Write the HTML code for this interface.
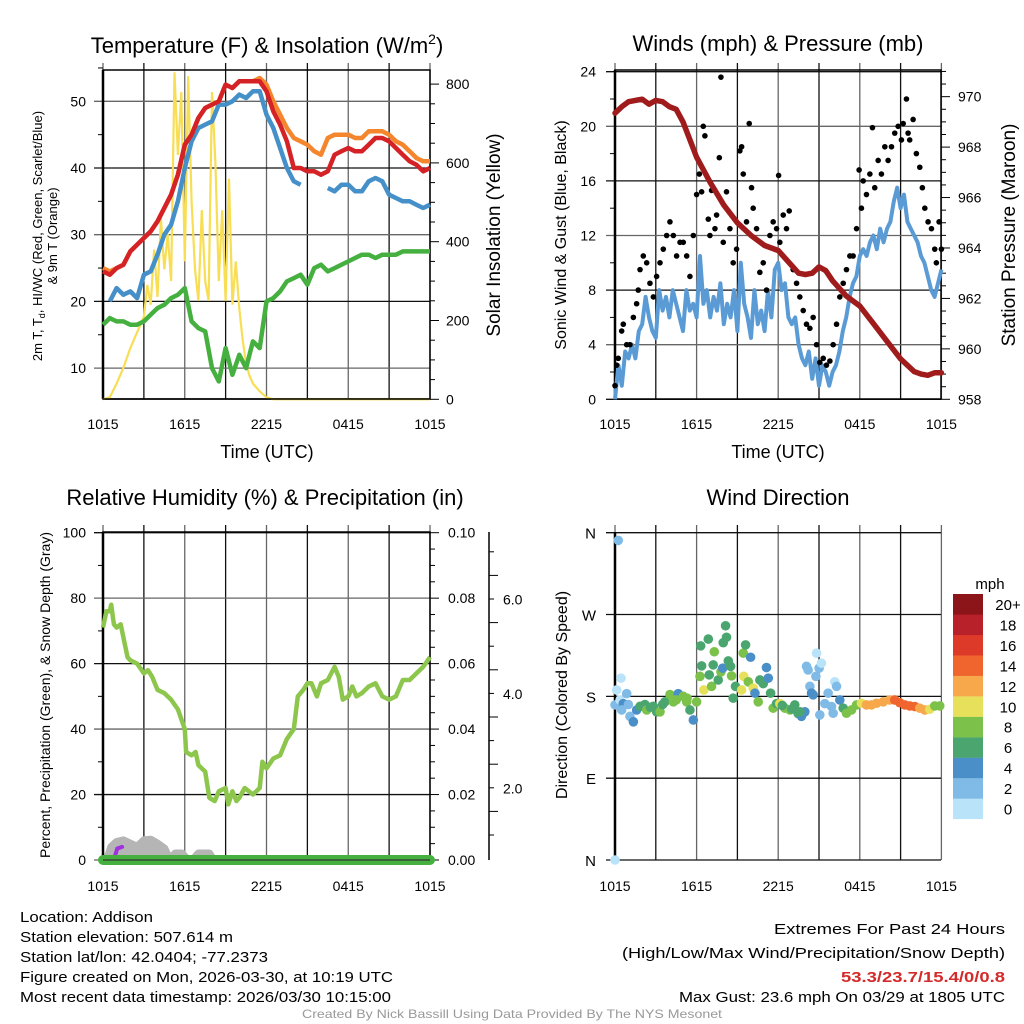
<!DOCTYPE html>
<html><head><meta charset="utf-8"><style>
html,body{margin:0;padding:0;background:#fff;}
svg{display:block;font-family:"Liberation Sans",Arial,sans-serif;}
</style></head><body>
<svg id="svg" width="1024" height="1024" viewBox="0 0 1024 1024" xmlns="http://www.w3.org/2000/svg">
<rect width="1024" height="1024" fill="#fff"/>
<g id="p1"></g>
<g id="p2"></g>
<g id="p3"></g>
<g id="p4"></g>
<!-- titles -->
<text x="267" y="53" font-size="22" text-anchor="middle">Temperature (F) &amp; Insolation (W/m<tspan font-size="14" dy="-9">2</tspan><tspan dy="9">)</tspan></text>
<text x="778" y="51" font-size="22" text-anchor="middle">Winds (mph) &amp; Pressure (mb)</text>
<text x="265" y="505" font-size="22" text-anchor="middle">Relative Humidity (%) &amp; Precipitation (in)</text>
<text x="778" y="505" font-size="22" text-anchor="middle">Wind Direction</text>
<text x="267" y="458" font-size="18" text-anchor="middle">Time (UTC)</text>
<text x="778" y="458" font-size="18" text-anchor="middle">Time (UTC)</text>
<text transform="translate(42,236) rotate(-90)" font-size="13" text-anchor="middle">2m T, T<tspan font-size="9" dy="3">d</tspan><tspan dy="-3">, HI/WC (Red, Green, Scarlet/Blue)</tspan></text>
<text transform="translate(57,236) rotate(-90)" font-size="13" text-anchor="middle">&amp; 9m T (Orange)</text>
<text transform="translate(500,235) rotate(-90)" font-size="19" text-anchor="middle">Solar Insolation (Yellow)</text>
<text transform="translate(566,235) rotate(-90)" font-size="16" text-anchor="middle">Sonic Wind &amp; Gust (Blue, Black)</text>
<text transform="translate(1015,235) rotate(-90)" font-size="19" text-anchor="middle">Station Pressure (Maroon)</text>
<text transform="translate(50,695) rotate(-90)" font-size="14" text-anchor="middle">Percent, Precipitation (Green), &amp; Snow Depth (Gray)</text>
<text transform="translate(567,695) rotate(-90)" font-size="16" text-anchor="middle">Direction (Colored By Speed)</text>
<!-- footer -->
<g font-size="15">
<text x="20" y="922" textLength="133" lengthAdjust="spacingAndGlyphs">Location: Addison</text>
<text x="20" y="942" textLength="213" lengthAdjust="spacingAndGlyphs">Station elevation: 507.614 m</text>
<text x="20" y="962" textLength="248" lengthAdjust="spacingAndGlyphs">Station lat/lon: 42.0404; -77.2373</text>
<text x="20" y="982" textLength="373" lengthAdjust="spacingAndGlyphs">Figure created on Mon, 2026-03-30, at 10:19 UTC</text>
<text x="20" y="1002" textLength="371" lengthAdjust="spacingAndGlyphs">Most recent data timestamp: 2026/03/30 10:15:00</text>
</g>
<g font-size="15">
<text x="774" y="934" textLength="231" lengthAdjust="spacingAndGlyphs">Extremes For Past 24 Hours</text>
<text x="622" y="958" textLength="383" lengthAdjust="spacingAndGlyphs">(High/Low/Max Wind/Precipitation/Snow Depth)</text>
<text x="841" y="982" textLength="164" lengthAdjust="spacingAndGlyphs" font-weight="bold" fill="#d42a2a">53.3/23.7/15.4/0/0.8</text>
<text x="679" y="1002" textLength="326" lengthAdjust="spacingAndGlyphs">Max Gust: 23.6 mph On 03/29 at 1805 UTC</text>
</g>
<text x="302" y="1018" font-size="12" fill="#999" textLength="420" lengthAdjust="spacingAndGlyphs">Created By Nick Bassill Using Data Provided By The NYS Mesonet</text>
</svg>
<script>
// ---------- DATA ----------
var xTickLabels = ["1015","1615","2215","0415","1015"];
// Panel 1
var tT = [0,0.5,1,1.5,2,2.5,3,3.5,4,4.5,5,5.5,6,6.5,7,7.5,8,8.5,9,9.5,10,10.5,11,11.5,12,12.5,13,13.5,14,14.5,15,15.5,16,16.5,17,17.5,18,18.5,19,19.5,20,20.5,21,21.5,22,22.5,23,23.5,24];
var tempRed = [24.5,24,25,25.5,27.5,28.5,29.5,30.5,32,34,36,39,43.5,45,47.5,49,49.5,50,52.5,52,53,53,53,53,51.5,48.5,46.5,44,40,40,39.5,39.5,39,39.5,42,42.5,43,42.5,42.5,43.5,44.5,44.5,44,43,42,41,40.5,39.5,40];
var temp9m = [25,24.5,25,25.5,27.5,28.5,29.5,30.5,32,34,36,39,43.5,45,47.5,49,49.5,50,52.5,52,53,53,53,53.5,52.5,50,48,46,44.5,44,43.5,42.5,42,44.5,45,45,45,44.5,44.5,45.5,45.5,45.5,45,44,43.5,42.5,41.5,41,41];
var windChill = [null,20,22,21,21.5,20.5,24,24.5,27,30,31.5,35,40,44,46,46.5,47,49.5,49.5,50,51,50.5,51.5,51.5,48,46,43,40,38,37.5,null,null,null,37,36.5,37.5,37.5,36.5,36.5,38,38.5,38,36,35.5,35,35,34.5,34,34.5];
var dewpoint = [16.5,17.5,17,17,16.5,16.5,17,18,19,19.5,20.5,21,22,17,16,15.5,10,8,13,9,12,10,14,13,20,20.5,21.5,23,23.5,24,22.5,25,25.5,24.5,25,25.5,26,26.5,27,27,26.5,27,27,27,27.5,27.5,27.5,27.5,27.5];
var solarT = [0,0.5,1,1.5,2,2.5,3,3.25,3.5,3.75,4,4.25,4.5,4.75,5,5.25,5.5,5.75,6,6.25,6.5,6.75,7,7.25,7.5,7.75,8,8.25,8.5,8.75,9,9.25,9.5,9.75,10,10.25,10.5,10.75,11,11.5,12,12.5,13,24];
var solarVals = [0,5,40,80,130,170,210,290,240,380,260,460,330,420,300,830,620,780,350,820,500,330,250,480,300,250,780,600,300,480,250,560,240,350,230,150,90,60,40,20,5,0,0,0];
// Panel 2
var pressT = [0,0.5,1,1.5,2,2.5,3,3.5,4,4.5,5,5.5,6,7,8,9,10,11,12,13,13.5,14,14.5,15,15.5,16,16.5,17,18,19,20,21,22,22.5,23,23.5,24];
var pressure = [969.35,969.6,969.8,969.85,969.9,969.7,969.85,969.8,969.6,969.5,969.0,968.3,967.6,966.6,965.7,965.0,964.5,964.1,963.9,963.3,963.0,962.95,963.0,963.25,963.1,962.7,962.4,962.1,961.7,961.0,960.3,959.6,959.1,959.0,958.95,959.05,959.05];
var windT = [0,0.25,0.5,0.75,1,1.25,1.5,1.75,2,2.25,2.5,2.75,3,3.25,3.5,3.75,4,4.25,4.5,4.75,5,5.25,5.5,5.75,6,6.25,6.5,6.75,7,7.25,7.5,7.75,8,8.25,8.5,8.75,9,9.25,9.5,9.75,10,10.25,10.5,10.75,11,11.25,11.5,11.75,12,12.25,12.5,12.75,13,13.25,13.5,13.75,14,14.25,14.5,14.75,15,15.25,15.5,15.75,16,16.25,16.5,16.75,17,17.25,17.5,17.75,18,18.25,18.5,18.75,19,19.25,19.5,19.75,20,20.25,20.5,20.75,21,21.25,21.5,21.75,22,22.25,22.5,22.75,23,23.25,23.5,23.75,24];
var windSpd = [0,2.5,1,3.5,3,4,3,5,5.5,7.5,6,5,4.5,8,6.5,7.5,6,8,7,6,5,8,6.5,7,6,10.5,7,8,6,7.5,6.5,8.5,5.5,7,6,8,5,10,7,6,4.5,8,5.5,6.5,5,8,6,9.5,10,8,8.5,6,5.5,6,4,3,2.5,3.5,1.5,3,1,2.5,2,1,2,2.5,3.5,5,6,7.5,8.5,9,10.5,11,10.5,11.5,12,11,12.5,11.5,12.5,13,14.5,15.5,14,15,13,12.5,12,11.5,10.5,10,9,8,7.5,8.5,9.5];
var gustT = [0,.12,.24,.49,.61,.86,1.1,1.35,1.59,1.71,1.84,2.08,2.33,2.57,2.82,3.06,3.31,3.55,3.8,4.04,4.29,4.53,4.78,5.02,5.27,5.51,5.76,6.0,6.2,6.37,6.49,6.61,6.86,6.98,7.1,7.35,7.47,7.67,7.79,7.96,8.2,8.45,8.69,8.94,9.18,9.31,9.43,9.67,9.87,10.04,10.16,10.41,10.65,10.9,11.14,11.39,11.63,11.88,12.03,12.12,12.37,12.61,12.81,13.1,13.35,13.59,13.84,14.08,14.33,14.57,14.82,15.06,15.31,15.55,15.8,16.04,16.29,16.53,16.78,17.02,17.27,17.51,17.76,17.95,18.12,18.25,18.49,18.74,18.93,19.1,19.35,19.59,19.84,20.08,20.33,20.57,20.82,21.06,21.19,21.43,21.55,21.67,21.92,22.16,22.41,22.6,22.78,23.02,23.27,23.51,23.63,23.83,24];
var gustSpd = [1,2.5,3,5,5.5,4,4,6,7,8,9.5,10.5,10,8.5,7.5,9,10,11,12,13,12,10.5,11.5,11.5,10.5,9,12,15,16.5,15.2,20,19.3,13.2,12,15.3,12.5,13.5,17.7,23.6,11.5,15.2,12.5,10,11,18.2,18.5,16.5,13,20.2,15.5,14,12.5,9.3,10,8,12,13,12.5,16.4,11.5,13.5,12.5,13.8,9.5,8.5,7.5,6.5,5.5,5.2,6,4,2.7,3,2.5,2.8,4,5.5,7.5,8.5,9.5,10.5,10.5,12.5,16.8,14,16,15,16.5,19.9,15.5,17.5,16.5,18.5,17.5,18.5,19.5,20,19,20.2,22,19.5,19,20.5,18,17,15.5,14,13,12.5,11,10,13,11];
// Panel 3
var rhT = [0,0.25,0.5,0.6,0.8,1,1.3,1.5,1.8,2,2.5,3,3.3,3.6,4,4.5,5,5.5,6,6.1,6.5,6.8,7,7.5,7.8,8.2,8.5,9,9.2,9.5,9.8,10,10.4,11,11.5,11.7,12,12.5,13,13.5,14,14.3,14.7,15,15.3,15.7,16,16.5,17,17.3,17.6,18,18.3,18.6,19,19.5,20,20.5,21,21.5,22,22.5,23,23.5,24];
var rh = [71,76,76,78,72,71,72,68,62,61,60,57,58,56,52,51,49,46,40,33,32,33,29,27,19,18,21,22,17,21,18,19,22,20,22,30,28,31,32,37,40,50,52,54,54,50,54,55,59,56,49,50,53,50,51,53,54,50,49,50,55,55,57,59,62];
var snowT = [0.3,0.6,1,1.5,2,2.5,3,3.5,4,4.5,4.9,5.3,5.8,6.2,6.6,7,7.4,7.8,8.1];
var snowV = [0,4,5.5,6,5,4,6,6.2,5,3.5,0,2,2,0,0,2,2,2,0];
var precipT = [0,24];
var precip = [0,0];
var rightPrecipTicks = [0,0.02,0.04,0.06,0.08,0.10];
var extraTicks = ["2.0","4.0","6.0"];
// Panel 4
var dirT = [0,0.24,0.44,0.12,0,0.37,0.61,0.86,0.98,0.49,1.1,1.35,1.59,1.84,2.2,2.33,2.82,3.06,3.31,3.67,4.04,4.29,4.65,5.02,5.27,5.51,5.76,6,6.25,6.3,6.37,6.53,6.86,6.93,7.1,7.22,7.3,7.59,7.79,7.92,7.96,8.13,8.2,8.33,8.5,8.57,8.69,8.86,9.31,9.43,9.6,9.47,9.8,9.97,10.16,10.29,10.53,10.65,10.9,11.14,11.27,11.44,11.63,11.88,12.12,12.49,12.86,13.22,13.47,13.71,13.96,14.08,14.2,14.33,14.45,14.57,14.77,14.82,15.01,15.18,15.06,15.43,15.67,15.92,16.16,16.29,16.04,16.53,16.78,17.02,17.39,17.76,18.12,18.49,18.86,19.23,19.72,20.2,20.57,20.94,21.31,21.67,22.04,22.41,22.78,23.14,23.51,23.88,2.6,3.5,4.5,5.3,12.3,13,13.6];
var dirDeg = [0,351.5,200,187,170.6,176,172,183,171,165,158,152,165,169,171,165,169,163,163,174,182,174,183,180,174,165,154,174,202,235.5,213.5,187,243,203.6,191,214.6,229,198,207,211,239,257.6,245,219,213,202.5,178,191,187,227.5,236.6,202,196,223,189,183.5,174,198,194,211.7,200,183.5,167,172,172,167,165,170.6,161,158,163,213,209,191,183.5,181.7,202,227.5,211,216.5,159.6,172,183.5,168.8,196,191,161.4,176,167,161.4,165,170.6,172.4,170.6,170.6,172.4,174,176,176,173,170.6,169.5,168.8,167,165,165.8,169.5,169.5,168,171,176,178,170,166,163];
var dirSpd = [1,3,1,1,3,0,5,3,3,3,3,5,5,7,7,9,7,7,9,7,9,9,5,9,9,7,5,9,9,7,7,11,7,7,9,7,9,7,9,5,7,7,7,7,7,9,7,7,11,9,7,11,9,5,11,5,9,7,7,5,5,7,9,7,11,9,9,7,7,5,5,3,3,3,5,5,3,1,3,1,3,3,3,3,1,3,3,5,7,9,9,9,11,13,13,13,13,13,15,15,15,15,15,13,13,11,9,9,7,7,9,9,7,7,7];
var binColors = ["#b9e3f8","#7fbbe6","#4a8fc8","#4aa56e","#7cc24a","#e6e05a","#f6a84a","#f0652e","#dd3a2a","#b8202a","#8b1518"];
var binLabels = ["0","2","4","6","8","10","12","14","16","18","20+"];
var dirLabels = ["N","E","S","W","N"];
var dirTicks = [0,90,180,270,360];

// ---------- HELPERS ----------
var NS="http://www.w3.org/2000/svg";
function mk(parent,tag,attrs){var e=document.createElementNS(NS,tag);for(var k in attrs)e.setAttribute(k,attrs[k]);parent.appendChild(e);return e;}
function pathFrom(ts,vs,xf,yf){var d="",pen=false;for(var i=0;i<ts.length;i++){if(vs[i]===null){pen=false;continue;}d+=(pen?"L":"M")+xf(ts[i]).toFixed(1)+","+yf(vs[i]).toFixed(1);pen=true;}return d;}
function txt(parent,x,y,s,size,anchor){var t=mk(parent,"text",{x:x,y:y,"font-size":size,"text-anchor":anchor||"middle"});t.textContent=s;return t;}

function frameX(g,x0,x1,y0,y1,xf,labY){
  for(var h=0;h<=24;h+=3){var x=xf(h);
    var gl=mk(g,"line",{x1:x,x2:x,y1:y0-7,y2:y1,stroke:(h%6==0)?"#666":"#111","stroke-width":1.3});
    
    
  }
  for(var i=0;i<5;i++){var t=txt(g,xf(i*6),labY,xTickLabels[i],14);
    
    }
}

// ---------- PANEL 1 ----------
(function(){
var g=document.getElementById("p1");
var xf=function(h){return 103+h*13.625;};
var yT=function(v){return 101.3+(50-v)*6.67;};
var yS=function(v){return 399.3-v*0.394;};
frameX(g,103,430,70,399,xf,429);
for(var v=10;v<=50;v+=10){var y=yT(v);var l=mk(g,"line",{x1:94,x2:430,y1:y,y2:y,stroke:(v%20==0)?"#111":"#666","stroke-width":1.3});
 
 var t=txt(g,86,y+5,String(v),14,"end");}
for(var v=15;v<=55;v+=10){var y=yT(v);mk(g,"line",{x1:98,x2:103,y1:y,y2:y,stroke:"#000"});}
for(var v=0;v<=800;v+=50){var y=yS(v);mk(g,"line",{x1:430,x2:(v%200==0)?439:435,y1:y,y2:y,stroke:"#000"});
 if(v%200==0){var t=txt(g,446,y+5,String(v),14,"start");}}
mk(g,"rect",{x:103,y:70,width:327,height:329,fill:"none",stroke:"#000","stroke-width":1.5});
mk(g,"line",{x1:103,x2:103,y1:70,y2:399,stroke:"#000","stroke-width":2.5});
var s;
s=mk(g,"path",{d:pathFrom(solarT,solarVals,xf,yS),fill:"none",stroke:"#f7de55","stroke-width":2.2});

s=mk(g,"path",{d:pathFrom(tT,dewpoint,xf,yT),fill:"none",stroke:"#45b03f","stroke-width":4.5,"stroke-linejoin":"round"});

s=mk(g,"path",{d:pathFrom(tT,windChill,xf,yT),fill:"none",stroke:"#4690c9","stroke-width":4.5,"stroke-linejoin":"round"});

s=mk(g,"path",{d:pathFrom(tT,temp9m,xf,yT),fill:"none",stroke:"#f4862e","stroke-width":4.5,"stroke-linejoin":"round"});

s=mk(g,"path",{d:pathFrom(tT,tempRed,xf,yT),fill:"none",stroke:"#d42226","stroke-width":4.5,"stroke-linejoin":"round"});

mk(g,"line",{x1:103,x2:430,y1:399,y2:399,stroke:"#000","stroke-width":1.5});
})();

// ---------- PANEL 2 ----------
(function(){
var g=document.getElementById("p2");
var xf=function(h){return 615+h*13.6;};
var yW=function(v){return 399.3-v*13.65;};
var yP=function(p){return 399.3-(p-958)*25.22;};
frameX(g,615,941,70,399,xf,429);
for(var v=0;v<=24;v+=2){var y=yW(v);
 if(v%4==0){var l=mk(g,"line",{x1:606,x2:941,y1:y,y2:y,stroke:(v%8==0)?"#111":"#666","stroke-width":1.3});
  
  var t=txt(g,596,y+5,String(v),14,"end");}
 else mk(g,"line",{x1:610,x2:615,y1:y,y2:y,stroke:"#000"});}
for(var p=958;p<=971;p+=0.5){var y=yP(p);var maj=(p%2==0);mk(g,"line",{x1:941,x2:maj?950:946,y1:y,y2:y,stroke:"#000"});
 if(maj){var t=txt(g,958,y+5,String(p),14,"start");}}
mk(g,"rect",{x:615,y:70,width:326,height:329,fill:"none",stroke:"#000","stroke-width":1.5});
mk(g,"line",{x1:615,x2:615,y1:70,y2:399,stroke:"#000","stroke-width":2.5});
var s=mk(g,"path",{d:pathFrom(windT,windSpd,xf,yW),fill:"none",stroke:"#5a9bd5","stroke-width":4,"stroke-linejoin":"round"});

for(var i=0;i<gustT.length;i++){var c=mk(g,"circle",{cx:xf(gustT[i]),cy:yW(gustSpd[i]),r:2.8,fill:"#000"});
 }
s=mk(g,"path",{d:pathFrom(pressT,pressure,xf,yP),fill:"none",stroke:"#a01c1c","stroke-width":5.5,"stroke-linejoin":"round","stroke-linecap":"round"});

})();

// ---------- PANEL 3 ----------
(function(){
var g=document.getElementById("p3");
var xf=function(h){return 103+h*13.625;};
var yR=function(v){return 860-v*3.273;};
var yPr=function(v){return 860-v*3273;};
frameX(g,103,430,532,860,xf,891);
for(var v=0;v<=100;v+=10){var y=yR(v);
 if(v%20==0){var l=mk(g,"line",{x1:94,x2:430,y1:y,y2:y,stroke:(v%40==0)?"#666":"#111","stroke-width":1.3});
  
  var t=txt(g,86,y+5,String(v),14,"end");}
 else mk(g,"line",{x1:98,x2:103,y1:y,y2:y,stroke:"#000"});}
for(var i=0;i<=20;i++){var y=yPr(i*0.005);mk(g,"line",{x1:430,x2:(i%4==0)?439:435,y1:y,y2:y,stroke:"#000"});}
for(var i=0;i<rightPrecipTicks.length;i++){var y=yPr(rightPrecipTicks[i]);var t=txt(g,448,y+5,rightPrecipTicks[i].toFixed(2),14,"start");
 }
mk(g,"line",{x1:489,x2:489,y1:532,y2:860,stroke:"#000","stroke-width":1.5});
for(var i=0;i<14;i++){var y=835-i*23.6;if(y<534)break;mk(g,"line",{x1:489,x2:(i%2==1)?498:494,y1:y,y2:y,stroke:"#000"});}
for(var i=0;i<3;i++){var y=788.7-i*94.7;var t=txt(g,503,y+5,extraTicks[i],14,"start");
 }
mk(g,"rect",{x:103,y:532,width:327,height:328,fill:"none",stroke:"#000","stroke-width":1.5});
mk(g,"line",{x1:103,x2:103,y1:532,y2:860,stroke:"#000","stroke-width":2.5});
var d=pathFrom(snowT,snowV,xf,yR)+"Z";
var s=mk(g,"path",{d:d,fill:"#b5b5b5",stroke:"#b5b5b5","stroke-width":8,"stroke-linejoin":"round"});

s=mk(g,"path",{d:"M"+xf(0.9)+","+yR(1.5)+"L"+xf(1.05)+","+yR(3.5)+"L"+xf(1.4)+","+yR(4),fill:"none",stroke:"#a030e0","stroke-width":4,"stroke-linecap":"round"});

s=mk(g,"path",{d:pathFrom(precipT,precip,xf,yPr),fill:"none",stroke:"#45b03f","stroke-width":10,"stroke-linecap":"round"});

mk(g,"line",{x1:103,x2:430,y1:860,y2:860,stroke:"#333","stroke-width":1.2});
s=mk(g,"path",{d:pathFrom(rhT,rh,xf,yR),fill:"none",stroke:"#8dc64d","stroke-width":4.5,"stroke-linejoin":"round"});

})();

// ---------- PANEL 4 ----------
(function(){
var g=document.getElementById("p4");
var xf=function(h){return 615+h*13.6;};
var yD=function(d){return 860-d*0.9092;};
frameX(g,615,941,532,860,xf,891);
for(var i=0;i<dirTicks.length;i++){var y=yD(dirTicks[i]);
 var l=mk(g,"line",{x1:606,x2:941,y1:y,y2:y,stroke:"#111","stroke-width":1.3});
 
 var t=txt(g,596,y+6,dirLabels[i],15,"end");}
mk(g,"line",{x1:615,x2:615,y1:532,y2:860,stroke:"#000","stroke-width":2.5});
for(var i=0;i<dirT.length;i++){var b=Math.min(10,Math.floor(dirSpd[i]/2));
 var c=mk(g,"circle",{cx:xf(dirT[i]),cy:yD(dirDeg[i]),r:4.8,fill:binColors[b]});
 }
var t=txt(g,990,589,"mph",15,"middle");
for(var i=0;i<11;i++){var y=594+(10-i)*20.45;
 var r=mk(g,"rect",{x:953,y:y,width:30,height:20.6,fill:binColors[i]});
 
 var tl=txt(g,1008,y+16,binLabels[i],15,"middle");}
})();
</script>
</body></html>
